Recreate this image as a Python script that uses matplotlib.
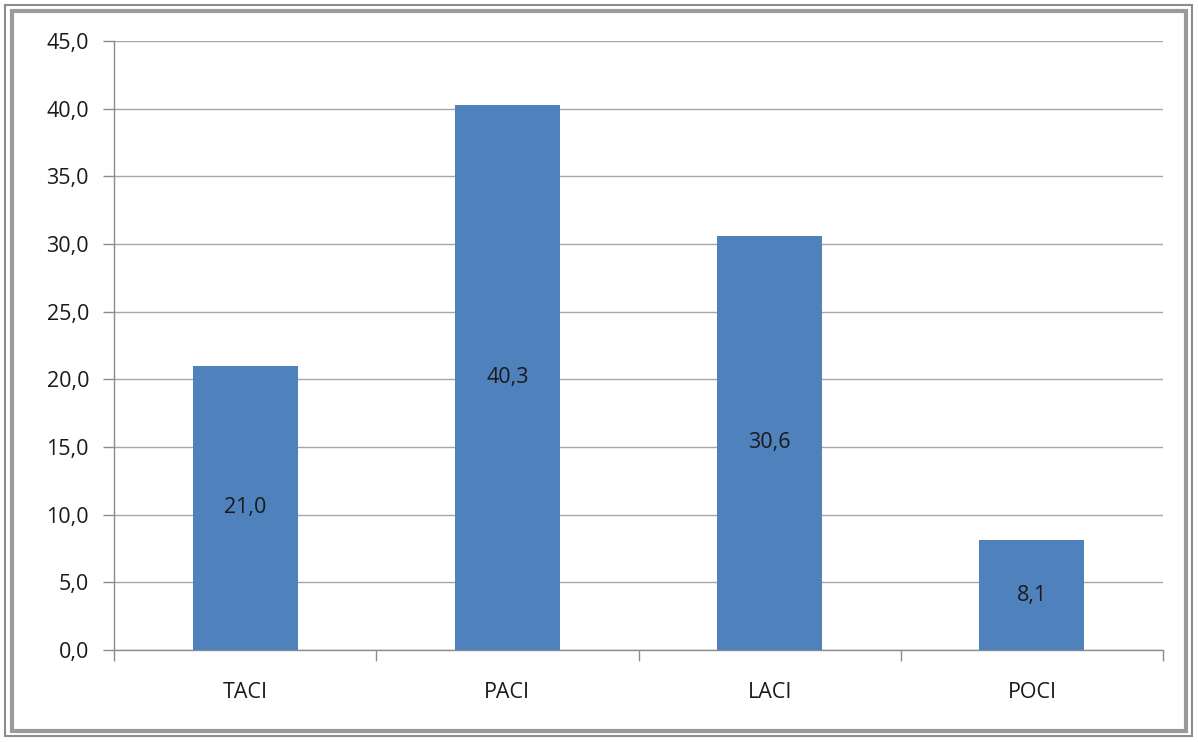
import matplotlib
import matplotlib.pyplot as plt
from matplotlib.patches import Rectangle
from matplotlib.ticker import MultipleLocator, FuncFormatter

matplotlib.rcParams['font.family'] = ['Open Sans', 'DejaVu Sans']

categories = ['TACI', 'PACI', 'LACI', 'POCI']
values = [21.0, 40.3, 30.6, 8.1]

fig = plt.figure(figsize=(11.98, 7.42), dpi=100)
fig.patch.set_facecolor('white')

# double grey frame around the chart area
fig.add_artist(Rectangle((5 / 1198, 6 / 742), 1187 / 1198, 731 / 742,
                         transform=fig.transFigure, fill=False,
                         edgecolor='#8c8c8c', linewidth=1.5))
fig.add_artist(Rectangle((12 / 1198, 11 / 742), 1174 / 1198, 720 / 742,
                         transform=fig.transFigure, fill=False,
                         edgecolor='#9a9a9a', linewidth=3))

ax = fig.add_axes([114 / 1198, 1 - 650 / 742, (1163 - 114) / 1198, (650 - 41) / 742])

x = range(len(categories))
bars = ax.bar(x, values, width=0.4, color='#4f81bd', zorder=3)

for rect, v in zip(bars, values):
    ax.text(rect.get_x() + rect.get_width() / 2, v / 2,
            '{:.1f}'.format(v).replace('.', ','),
            ha='center', va='center', fontsize=15.5, color='#1a1a1a', zorder=4)

ax.set_xlim(-0.5, len(categories) - 0.5)
ax.set_ylim(0, 45)
ax.yaxis.set_major_locator(MultipleLocator(5))
ax.yaxis.set_major_formatter(FuncFormatter(lambda v, p: '{:.1f}'.format(v).replace('.', ',')))
ax.grid(axis='y', color='#a6a6a6', linewidth=1, zorder=0)

ax.set_xticks(list(x))
ax.set_xticklabels(categories)
ax.set_xticks([i - 0.5 for i in range(len(categories) + 1)], minor=True)
ax.tick_params(axis='x', which='major', length=0, pad=23, labelsize=15.5, labelcolor='#1a1a1a')
ax.tick_params(axis='x', which='minor', length=8, color='#8c8c8c', width=1)
ax.tick_params(axis='y', length=8, color='#8c8c8c', width=1, pad=10, labelsize=15.5, labelcolor='#1a1a1a')

for side in ['top', 'right']:
    ax.spines[side].set_visible(False)
for side in ['left', 'bottom']:
    ax.spines[side].set_color('#8c8c8c')
    ax.spines[side].set_linewidth(1)

fig.savefig('out.png', dpi=100, facecolor='white')
